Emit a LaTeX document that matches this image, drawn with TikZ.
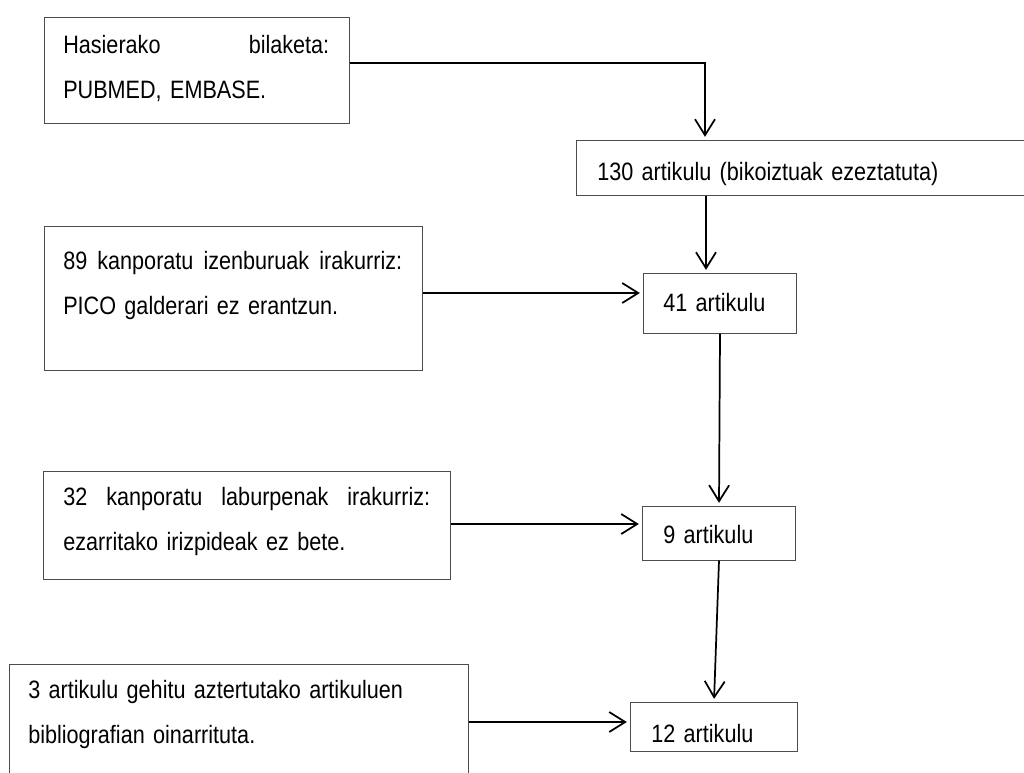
\documentclass[tikz,border=0pt]{standalone}
\usepackage{fontspec}
\setmainfont{Liberation Sans}[FakeStretch=0.86]
\usetikzlibrary{arrows.meta,fit}
\newcommand{\testufont}{\fontsize{18.85}{33.75}\selectfont\spaceskip=4.4pt plus 2pt minus 1pt\relax}
\tikzset{
  kutxa/.style={draw=black!70, line width=0.75pt, inner sep=0pt},
  testu/.style={anchor=base west, inner sep=0pt, align=left, text width=300pt,
    font=\testufont},
  gezi/.style={line width=1.3pt, -{Straight Barb[length=12pt,width=15pt]}, shorten >=2pt}
}
\newcommand{\zabal}[2]{\makebox[#1][s]{#2}}
\begin{document}
\begin{tikzpicture}[x=0.75pt,y=-0.75pt]
\clip (0,0) rectangle (1024,772);
\node[kutxa, fit={(44,17.5) (349,123)}] (hasi) {};
\node[kutxa, fit={(576,140) (1030,195)}] (bikoitz) {};
\node[kutxa, fit={(44,226) (422,370)}] (izenburu) {};
\node[kutxa, fit={(643,273) (796,333)}] (art41) {};
\node[kutxa, fit={(43,471) (450,579)}] (laburpen) {};
\node[kutxa, fit={(642,506) (795,560)}] (art9) {};
\node[kutxa, fit={(9,664) (468,780)}] (gehitu) {};
\node[kutxa, fit={(630,702) (797,751)}] (art12) {};
\node[testu] (hasi-t) at (63,53.5) {\zabal{199.5pt}{Hasierako\hfill bilaketa:}\\PUBMED, EMBASE.};
\node[testu] (bikoitz-t) at (597,180) {130 artikulu (bikoiztuak ezeztatuta)};
\node[testu] (izenburu-t) at (63,269.5) {\zabal{254.25pt}{89\hfill kanporatu\hfill izenburuak\hfill irakurriz:}\\PICO galderari ez erantzun.};
\node[testu] (art41-t) at (663,311) {41 artikulu};
\node[testu] (laburpen-t) at (63,505) {\zabal{275.25pt}{32\hfill kanporatu\hfill laburpenak\hfill irakurriz:}\\ezarritako irizpideak ez bete.};
\node[testu] (art9-t) at (663,543) {9 artikulu};
\node[testu] (gehitu-t) at (28,698) {3 artikulu gehitu aztertutako artikuluen\\bibliografian oinarrituta.};
\node[testu] (art12-t) at (651,742) {12 artikulu};
\draw[gezi] (hasi.east |- 0,63) -| (bikoitz.north -| 705,0);
\draw[gezi] (bikoitz.south -| 706,0) -- (art41.north -| 706,0);
\draw[gezi] (izenburu.east |- 0,293) -- (art41.west |- 0,293);
\draw[gezi] (art41.south -| 720,0) -- (art9.north -| 719,0);
\draw[gezi] (laburpen.east |- 0,524) -- (art9.west |- 0,524);
\draw[gezi] (art9.south -| 719,0) -- (art12.north -| 714,0);
\draw[gezi] (gehitu.east |- 0,722) -- (art12.west |- 0,722);
\end{tikzpicture}
\end{document}
